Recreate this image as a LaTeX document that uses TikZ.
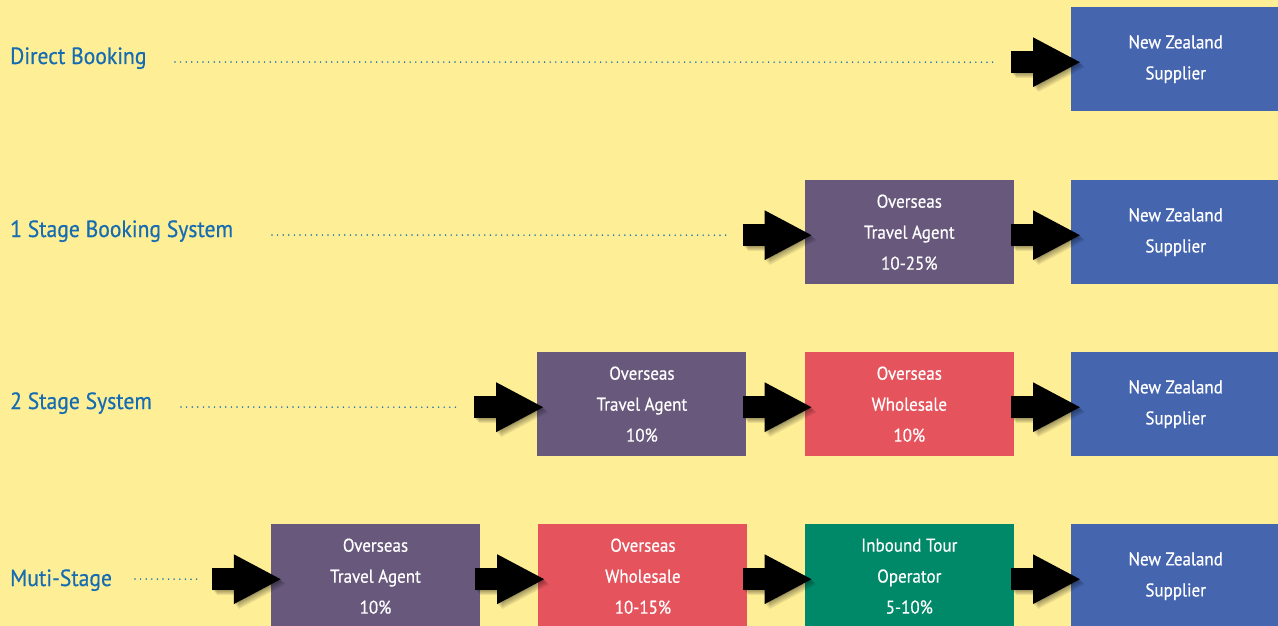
\documentclass[tikz,border=0pt]{standalone}
\usepackage{fontspec}
\setmainfont{PT Sans}[FakeStretch=0.92,FakeBold=0.5]
\usetikzlibrary{positioning,arrows.meta,calc}
\definecolor{bgyellow}{RGB}{254,238,150}
\definecolor{labelblue}{RGB}{22,108,178}
\definecolor{nzblue}{RGB}{69,101,175}
\definecolor{agentpurple}{RGB}{103,88,124}
\definecolor{wholesalered}{RGB}{229,83,93}
\definecolor{inboundgreen}{RGB}{0,137,104}

\tikzset{
  stagebox/.style={minimum width=209pt, minimum height=104pt, inner sep=0pt,
    text=white, align=center, font=\fontsize{18.5}{31}\selectfont},
  rowlabel/.style={anchor=base west, inner sep=0pt, text=labelblue,
    font=\fontsize{23.5}{28}\selectfont},
  leader/.style={labelblue, line width=1.7pt, line cap=round,
    dash pattern=on 0pt off 5.6pt},
  blockarrow/.style={line width=22pt, -{Triangle[length=48pt,width=46pt]}},
  arrowshade/.style={blockarrow, black, opacity=0.08}
}
% block arrow with a soft shadow
\newcommand\pusharrow[2]{%
  \foreach \s in {1,...,5}{%
    \draw[arrowshade, transform canvas={shift={(\s pt,-\s pt)}}] (#1) -- (#2);}
  \draw[blockarrow] (#1) -- (#2);}

\begin{document}
\begin{tikzpicture}[x=1pt,y=-1pt]
  \fill[bgyellow] (0,0) rectangle (1278,626);
  \useasboundingbox (0,0) rectangle (1278,626);

  % right-hand suppliers
  \node[stagebox, fill=nzblue, anchor=north west] (nz1) at (1071,7) {New Zealand\\Supplier};
  \node[stagebox, fill=nzblue, anchor=north west] (nz2) at (1071,180) {New Zealand\\Supplier};
  \node[stagebox, fill=nzblue, anchor=north west] (nz3) at (1071,352) {New Zealand\\Supplier};
  \node[stagebox, fill=nzblue, anchor=north west] (nz4) at (1071,524) {New Zealand\\Supplier};

  % intermediaries
  \node[stagebox, fill=agentpurple, left=57pt of nz2] (ta2) {Overseas\\Travel Agent\\10-25\%};
  \node[stagebox, fill=wholesalered, left=57pt of nz3] (ws3) {Overseas\\Wholesale\\10\%};
  \node[stagebox, fill=agentpurple, left=58pt of ws3] (ta3) {Overseas\\Travel Agent\\10\%};
  \node[stagebox, fill=inboundgreen, left=57pt of nz4] (ito4) {Inbound Tour\\Operator\\5-10\%};
  \node[stagebox, fill=wholesalered, left=57pt of ito4] (ws4) {Overseas\\Wholesale\\10-15\%};
  \node[stagebox, fill=agentpurple, left=58pt of ws4] (ta4) {Overseas\\Travel Agent\\10\%};

  % row labels
  \node[rowlabel] (l1) at (10,64) {Direct Booking};
  \node[rowlabel] (l2) at (10,237) {1 Stage Booking System};
  \node[rowlabel] (l3) at (10,409) {2 Stage System};
  \node[rowlabel] (l4) at (10,586) {Muti-Stage};

  % arrow tails
  \coordinate (a1) at ($(nz1.west)+(-60,3)$);
  \coordinate (a2) at ($(ta2.west)+(-62,3)$);
  \coordinate (b2) at ($(nz2.west)+(-60,3)$);
  \coordinate (a3) at ($(ta3.west)+(-63,3)$);
  \coordinate (b3) at ($(ws3.west)+(-62,3)$);
  \coordinate (c3) at ($(nz3.west)+(-60,3)$);
  \coordinate (a4) at ($(ta4.west)+(-59,3)$);
  \coordinate (b4) at ($(ws4.west)+(-63,3)$);
  \coordinate (c4) at ($(ito4.west)+(-62,3)$);
  \coordinate (d4) at ($(nz4.west)+(-60,3)$);

  % dotted leaders
  \coordinate (s1) at (175,62);
  \coordinate (s2) at (272,235);
  \coordinate (s3) at (181,407);
  \coordinate (s4) at (135,579);
  \draw[leader] (s1) -- ($(a1)+(-14,0)$);
  \draw[leader] (s2) -- ($(a2)+(-14,0)$);
  \draw[leader] (s3) -- ($(a3)+(-14,0)$);
  \draw[leader] (s4) -- ($(a4)+(-14,0)$);

  % arrows
  \pusharrow{a1}{$(nz1.west)+(10,3)$}
  \pusharrow{a2}{$(ta2.west)+(8,3)$}
  \pusharrow{b2}{$(nz2.west)+(10,3)$}
  \pusharrow{a3}{$(ta3.west)+(7,3)$}
  \pusharrow{b3}{$(ws3.west)+(8,3)$}
  \pusharrow{c3}{$(nz3.west)+(10,3)$}
  \pusharrow{a4}{$(ta4.west)+(11,3)$}
  \pusharrow{b4}{$(ws4.west)+(7,3)$}
  \pusharrow{c4}{$(ito4.west)+(8,3)$}
  \pusharrow{d4}{$(nz4.west)+(10,3)$}
\end{tikzpicture}
\end{document}
